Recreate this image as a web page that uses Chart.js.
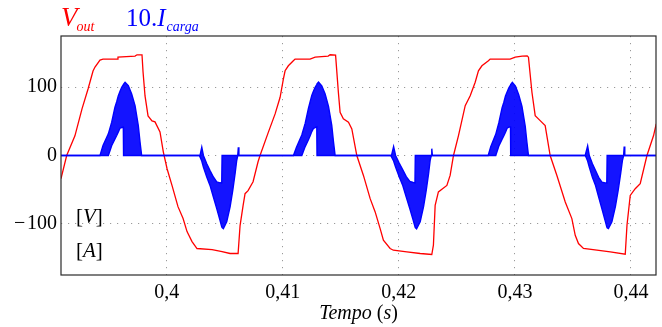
<!DOCTYPE html>
<html>
<head>
<meta charset="utf-8">
<script src="https://cdn.jsdelivr.net/npm/chart.js@4/dist/chart.umd.min.js"></script>
<style>
  html, body { margin: 0; padding: 0; background: #fff; }
  #wrap { position: relative; width: 662px; height: 327px; font-family: "Liberation Serif", serif; }
  #c { position: absolute; left: 0; top: 0; }
  .lbl { position: absolute; white-space: nowrap; line-height: 1; }
  .it { font-style: italic; }
</style>
</head>
<body>
<div id="wrap">
  <canvas id="c" width="662" height="327"></canvas>
  <div class="lbl" style="left:61px; top:4px; font-size:27px; color:#ff0000;"><span class="it">V</span><span class="it" style="font-size:14px; position:relative; top:5px; left:-1px;">out</span></div>
  <div class="lbl" style="left:126px; top:5px; font-size:25px; color:#0000ff;">10.<span class="it">I</span><span class="it" style="font-size:14px; position:relative; top:5px; left:1px;">carga</span></div>
  <div class="lbl" style="left:76px; top:206px; font-size:21px; color:#000;">[<span class="it">V</span>]</div>
  <div class="lbl" style="left:76px; top:240px; font-size:21px; color:#000;">[<span class="it">A</span>]</div>
  <div class="lbl" style="left:0; width:717px; text-align:center; top:302px; font-size:20px; color:#000;"><span class="it">Tempo</span> (<span class="it">s</span>)</div>
</div>
<script>
// ---- data ----
const tV = [
  0.39089,0.39138,0.39209,0.39270,0.39322,0.39365,0.39382,0.39425,0.39451,0.39572,0.39580,0.39727,0.39744,0.39787,0.39796,0.39813,0.39839,0.39873,0.39899,0.39942,0.39971,0.40003,0.40046,0.40097,0.40141,0.40175,0.40218,0.40261,0.40391,0.40477,0.40546,0.40615,0.40632,0.40658,0.40675,0.40701,0.40744,0.40787,0.40804,
  0.40876,0.40934,0.40977,0.41005,0.41020,0.41048,0.41091,0.41106,0.41235,0.41279,0.41391,0.41408,0.41455,0.41479,0.41494,0.41522,0.41566,0.41595,0.41638,0.41695,0.41753,0.41796,0.41839,0.41867,0.41925,0.41953,0.42069,0.42184,0.42284,0.42298,0.42313,0.42341,
  0.42414,0.42442,0.42471,0.42514,0.42572,0.42615,0.42658,0.42686,0.42716,0.42772,0.42787,0.42959,0.43003,0.43063,0.43106,0.43117,0.43147,0.43175,0.43218,0.43261,0.43304,0.43362,0.43434,0.43491,0.43520,0.43548,0.43591,0.43707,0.43822,0.43951,0.43966,0.43994,0.44037,0.44080,0.44138,0.44195,0.44218
];
const vOut = [
  -34,0,28.8,68.2,97.4,123.7,129.5,139.8,141.2,141.2,144.1,145.6,147.5,147.5,122.2,87.2,58,50.7,49.2,34.6,5,-19.4,-44.2,-74.9,-92.4,-111.4,-126,-136.2,-137.7,-140.6,-143.5,-143.5,-102.6,-73.4,-55.9,-51.5,-38.4,-9.2,0,
  34.2,60.9,85.3,112,124.1,131.4,138.7,141.2,141.2,144.1,145.6,147.5,147,92.6,63.4,53.6,48.8,39,0,-29.2,-63.2,-82.6,-107,-124.1,-136.2,-138.7,-141,-143.5,-145,-131.4,-73,-53.4,
  -43.8,-29.2,0,29.2,73,87.6,107.2,124.1,131.4,138.7,141.2,141.2,144.1,145.6,146,144,92.6,58.4,51.1,43.8,0,-29.2,-68,-92.4,-116.8,-128.9,-136.2,-138.7,-141,-144.5,-102.2,-58.4,-48.6,-41.3,0,29.2,46.3
];
// load current x10: switching band between an upper and a lower envelope
const tI = [
  0.39089,
  0.39425,0.39451,0.39497,0.39526,0.39554,0.39569,0.39583,0.39597,0.39612,0.39626,0.39628,0.39641,0.39669,0.39698,0.39727,0.39755,0.39770,0.39784,
  0.40281,0.40287,0.40302,0.40316,0.40345,0.40373,0.40402,0.40431,0.40459,0.40474,0.40477,0.40488,0.40517,0.40546,0.40569,0.40589,0.40603,0.40612,0.40617,0.40622,
  0.41092,0.41118,0.41164,0.41193,0.41221,0.41236,0.41250,0.41264,0.41279,0.41293,0.41295,0.41308,0.41336,0.41365,0.41394,0.41422,0.41437,0.41451,
  0.41930,0.41937,0.41955,0.41972,0.42003,0.42034,0.42064,0.42095,0.42124,0.42139,0.42142,0.42153,0.42184,0.42213,0.42236,0.42256,0.42270,0.42279,0.42284,0.42289,
  0.42770,0.42792,0.42835,0.42862,0.42890,0.42905,0.42919,0.42933,0.42948,0.42962,0.42964,0.42978,0.43005,0.43033,0.43061,0.43089,0.43104,0.43117,
  0.43606,0.43612,0.43627,0.43641,0.43668,0.43695,0.43722,0.43750,0.43777,0.43792,0.43795,0.43806,0.43836,0.43866,0.43890,0.43911,0.43927,0.43937,0.43942,0.43947,
  0.44216
];
const iHigh = [
  0,
  0,14.6,31.7,48.8,70.7,78.8,87.6,93.7,99.9,103.5,104.5,107.2,102.2,90.1,73,43.8,19.6,0,
  0,0,12,0,-12.1,-21.9,-31.5,-38.8,-40,-40.3,0,0,0,0,0,0,0,0,12,0,
  0,12,30,47,69,79,88,94,100,104,105,107.5,102,90,72,44,20,0,
  0,0,13,0,-11,-21,-31,-38,-39.5,-40,0,0,0,0,0,0,0,0,10,0,
  0,13,31,48,70,78,87,93,99,103,104,107,101.5,89,72,43,19,0,
  0,0,14,0,-12,-22,-32,-39,-40,-40.5,0,0,0,0,0,0,0,0,13,0,
  0
];
const iLow = [
  0,
  0,0,0,14.6,24.4,29.2,34.6,40,41,41.5,0,0,0,0,0,0,0,0,
  0,-2,-8,-17,-31.5,-43.8,-60.7,-77.8,-94.9,-104.5,-105.5,-107,-97.2,-75.3,-51.1,-26.7,-7.3,0,0,0,
  0,0,0,13,23,29,35,39.5,41,42,0,0,0,0,0,0,0,0,
  0,-2,-8,-17,-31,-44,-61,-78,-95,-104,-105.5,-107.5,-97,-75,-51,-27,-7,0,0,0,
  0,0,0,14,24,29,34,40,41.5,42,0,0,0,0,0,0,0,0,
  0,-2,-8,-17,-32,-44,-61,-78,-95,-104.5,-106,-107,-97,-75,-51,-27,-7,0,0,0,
  0
];
const xTicks = [0.40, 0.41, 0.42, 0.43, 0.44];
const xTickLabels = ['0,4', '0,41', '0,42', '0,43', '0,44'];
const yTicks = [-100, 0, 100];
const yTickLabels = ['\u2212\u200A100', '0', '100'];

// ---- chart ----
const pts = (xs, ys) => xs.map((x, i) => ({ x: x, y: ys[i] }));

const framePlugin = {
  id: 'frame',
  afterDatasetsDraw(chart) {
    const { ctx, chartArea: a } = chart;
    ctx.save();
    ctx.strokeStyle = '#2a2a2a';
    ctx.lineWidth = 1.2;
    ctx.strokeRect(a.left, a.top, a.right - a.left, a.bottom - a.top);
    ctx.restore();
  }
};

const tickFont = { family: 'Liberation Serif', size: 20 };

new Chart(document.getElementById('c'), {
  type: 'line',
  data: {
    datasets: [
      { label: 'iLow', data: pts(tI, iLow), borderColor: '#0000ff', borderWidth: 1.4, pointRadius: 0, fill: false, tension: 0 },
      { label: 'iHigh', data: pts(tI, iHigh), borderColor: '#0000ff', borderWidth: 1.4, pointRadius: 0, fill: '-1', backgroundColor: 'rgba(0,0,255,0.92)', tension: 0 },
      { label: 'Vout', data: pts(tV, vOut), borderColor: '#ff0000', borderWidth: 1.3, pointRadius: 0, fill: false, tension: 0 }
    ]
  },
  options: {
    responsive: false,
    animation: false,
    events: [],
    layout: { padding: { left: 0, right: 6, top: 36, bottom: 0 } },
    plugins: { legend: { display: false }, tooltip: { enabled: false } },
    scales: {
      x: {
        type: 'linear', min: 0.39089, max: 0.44216,
        afterBuildTicks: s => { s.ticks = xTicks.map(v => ({ value: v })); },
        afterFit: s => { s.height = 52; },
        ticks: { font: tickFont, color: '#000', padding: 6, maxRotation: 0, autoSkip: false,
                 callback: (v, i) => xTickLabels[i] },
        grid: { color: '#9a9a9a', lineWidth: 1, drawTicks: false },
        border: { display: false, dash: [1.2, 5.8] }
      },
      y: {
        type: 'linear', min: -175, max: 175,
        afterBuildTicks: s => { s.ticks = yTicks.map(v => ({ value: v })); },
        afterFit: s => { s.width = 61; },
        ticks: { font: tickFont, color: '#000', padding: 4, autoSkip: false,
                 callback: (v, i) => yTickLabels[i] },
        grid: { color: '#9a9a9a', lineWidth: 1, drawTicks: false },
        border: { display: false, dash: [1.2, 5.8] }
      }
    }
  },
  plugins: [framePlugin]
});
</script>
</body>
</html>
